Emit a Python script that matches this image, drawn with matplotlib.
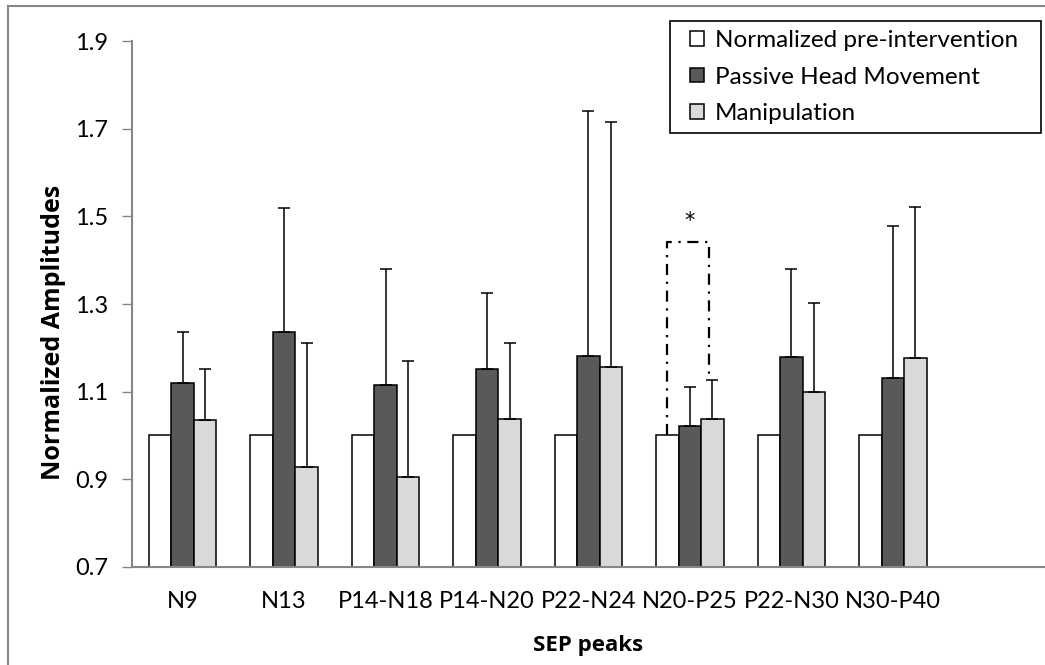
import numpy as np
import matplotlib.pyplot as plt
from matplotlib.lines import Line2D
from matplotlib.patches import Rectangle

peaks = ["N9", "N13", "P14-N18", "P14-N20", "P22-N24", "N20-P25", "P22-N30", "N30-P40"]
pre = [1.0, 1.0, 1.0, 1.0, 1.0, 1.0, 1.0, 1.0]
phm = [1.120, 1.235, 1.115, 1.151, 1.181, 1.022, 1.180, 1.131]
phm_top = [1.237, 1.518, 1.380, 1.324, 1.740, 1.111, 1.381, 1.479]
man = [1.035, 0.927, 0.905, 1.037, 1.156, 1.038, 1.100, 1.176]
man_top = [1.151, 1.210, 1.170, 1.211, 1.716, 1.127, 1.302, 1.522]
series_names = ["Normalized pre-intervention", "Passive Head Movement", "Manipulation"]

plt.rcParams['font.family'] = ['Lato', 'DejaVu Sans']

fig = plt.figure(figsize=(10.45, 6.65), dpi=100)
ax = fig.add_axes([0.1263, 0.1474, 0.8737, 0.7909])

x = np.arange(len(peaks))
w = 0.222
grey = '#868686'

phm_err = np.array(phm_top) - np.array(phm)
man_err = np.array(man_top) - np.array(man)

ax.bar(x - w, pre, w, color='white', edgecolor='black', linewidth=1.1,
       label=series_names[0], zorder=2)
ax.bar(x, phm, w, color='#595959', edgecolor='black', linewidth=1.1,
       label=series_names[1], zorder=2)
ax.bar(x + w, man, w, color='#d9d9d9', edgecolor='black', linewidth=1.1,
       label=series_names[2], zorder=2)
ax.errorbar(x, phm, yerr=[np.zeros(len(x)), phm_err], fmt='none', ecolor='black',
            elinewidth=1.1, capsize=4.3, capthick=1.1, zorder=3)
ax.errorbar(x + w, man, yerr=[np.zeros(len(x)), man_err], fmt='none', ecolor='black',
            elinewidth=1.1, capsize=4.3, capthick=1.1, zorder=3)

# significance bracket on N20-P25
i = 5
bx = [i - w, i - w, i + 0.19, i + 0.19]
by = [pre[i], 1.4415, 1.4415, man_top[i]]
ax.plot(bx, by, color='black', linestyle=(0, (5, 3, 1, 3)), linewidth=1.6, zorder=4)
ax.text(i, 1.49, "*", ha='center', va='center', fontsize=15, family='DejaVu Sans')

ax.set_ylim(0.7, 1.9)
ax.set_xlim(-0.5, 8.5)
ax.set_yticks(np.arange(0.7, 1.91, 0.2))
ax.set_yticklabels([f"{v:.1f}" for v in np.arange(0.7, 1.91, 0.2)])
ax.set_xticks(x)
ax.set_xticklabels(peaks)
ax.tick_params(axis='y', length=7, width=1, color=grey, labelsize=17, pad=10)
ax.tick_params(axis='x', length=0, labelsize=17, pad=17)

for s in ['top', 'right']:
    ax.spines[s].set_visible(False)
for s in ['left', 'bottom']:
    ax.spines[s].set_color(grey)
    ax.spines[s].set_linewidth(1.5)
ax.spines['bottom'].set_zorder(5)

ax.set_ylabel("Normalized Amplitudes", fontsize=18, fontweight='bold', family='Open Sans')
ax.yaxis.set_label_coords(-0.072, 0.447)
ax.set_xlabel("SEP peaks", fontsize=16, fontweight='bold', family='Open Sans', labelpad=17)

leg = ax.legend(loc='upper right', bbox_to_anchor=(0.982, 0.968),
                bbox_transform=fig.transFigure, fontsize=17.5, frameon=False,
                handlelength=0.55, handleheight=0.55,
                handletextpad=0.45, borderpad=0.35, labelspacing=0.65, borderaxespad=0)

# legend frame, wider left/right padding like the original
fig.canvas.draw()
bb = leg.get_window_extent().transformed(fig.transFigure.inverted())
fig.add_artist(Rectangle((bb.x0 - 12 / 1045, bb.y0), bb.width + 27 / 1045, bb.height,
                         transform=fig.transFigure, fill=False, edgecolor='black',
                         linewidth=1.2, zorder=6))

# outer chart border
fig.add_artist(Line2D([8 / 1045, 8 / 1045], [0, 1 - 6 / 665], color=grey, linewidth=1.5))
fig.add_artist(Line2D([8 / 1045, 1], [1 - 6 / 665, 1 - 6 / 665], color=grey, linewidth=1.5))

fig.savefig("out.png", dpi=100)
